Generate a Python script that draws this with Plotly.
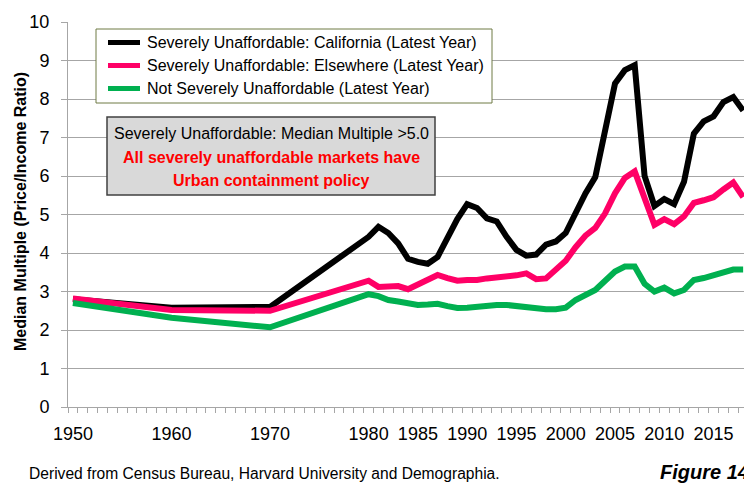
import plotly.graph_objects as go

years = [1950, 1960, 1970] + list(range(1980, 2019))

california = [2.80, 2.58, 2.60,
              4.42, 4.68, 4.52, 4.25, 3.85, 3.77, 3.72, 3.90, 4.40, 4.88,
              5.27, 5.17, 4.90, 4.82, 4.42, 4.08, 3.93, 3.96, 4.22, 4.30,
              4.52, 5.05, 5.55, 5.97, 7.10, 8.40, 8.75, 8.88, 6.00, 5.22,
              5.40, 5.27, 5.85, 7.10, 7.42, 7.55, 7.92, 8.05, 7.70]

elsewhere = [2.82, 2.52, 2.50,
             3.28, 3.12, 3.12, 3.14, 3.06, 3.17, 3.30, 3.43, 3.35, 3.28,
             3.30, 3.30, 3.34, 3.36, 3.38, 3.42, 3.47, 3.32, 3.34, 3.56,
             3.80, 4.15, 4.45, 4.65, 5.03, 5.55, 5.95, 6.12, 5.45, 4.73,
             4.88, 4.75, 4.95, 5.30, 5.37, 5.45, 5.65, 5.83, 5.45]

not_severe = [2.70, 2.32, 2.07,
              2.93, 2.88, 2.78, 2.74, 2.68, 2.65, 2.66, 2.68, 2.62, 2.57,
              2.58, 2.60, 2.65, 2.65, 2.65, 2.62, 2.60, 2.56, 2.54, 2.54,
              2.58, 2.78, 2.92, 3.04, 3.28, 3.52, 3.65, 3.65, 3.20, 3.00,
              3.10, 2.95, 3.04, 3.30, 3.35, 3.42, 3.52, 3.57, 3.57]

series_names = ["Severely Unaffordable: California (Latest Year)",
                "Severely Unaffordable: Elsewhere (Latest Year)",
                "Not Severely Unaffordable (Latest Year)"]
series_colors = ["#000000", "#FF0066", "#00B050"]

x_tick_vals = [1950, 1960, 1970, 1980, 1985, 1990, 1995, 2000, 2005, 2010, 2015]
y_tick_vals = list(range(0, 11))

# page body has an 8px margin; figure sized to fill the rest of the window
OFF = 8
W, H = 752 - OFF, 485 - OFF
L, R, T = 68 - OFF, 0, 22 - OFF
B = H - (407 - OFF)
PW, PH = W - L - R, H - T - B

def xp(px):
    return (px - OFF - L) / PW

def yp(py):
    return (H - B - (py - OFF)) / PH

FONT = "Liberation Sans, Arial, sans-serif"

fig = go.Figure()
for name, vals, col in zip(series_names, [california, elsewhere, not_severe], series_colors):
    fig.add_trace(go.Scatter(x=years, y=vals, mode="lines", name=name,
                             line=dict(color=col, width=6), showlegend=False))

grid = "#A6A6A6"
fig.update_layout(
    width=W, height=H,
    margin=dict(l=L, r=R, t=T, b=B),
    plot_bgcolor="white", paper_bgcolor="white",
    font=dict(family=FONT, color="#000000"),
    showlegend=False,
    xaxis=dict(range=[1949.5, 2018.9], tickmode="array", tickvals=x_tick_vals,
               ticktext=[str(v) for v in x_tick_vals], ticks="",
               tickfont=dict(size=18, family=FONT), showgrid=False,
               showline=True, linecolor=grid, linewidth=1, zeroline=False,
               ticklabelstandoff=10,
               minor=dict(tick0=1949.5, dtick=1, ticks="outside", ticklen=5,
                          tickcolor=grid, showgrid=False)),
    yaxis=dict(range=[0, 10], tickmode="array", tickvals=y_tick_vals,
               ticks="outside", ticklen=6, tickcolor=grid,
               tickfont=dict(size=18, family=FONT), showgrid=True,
               gridcolor=grid, gridwidth=1, showline=True, linecolor=grid,
               linewidth=1, zeroline=False, ticklabelstandoff=8),
)

# Y axis title
fig.add_annotation(text="<b>Median Multiple (Price/Income Ratio)</b>",
                   xref="paper", yref="paper", x=xp(20), y=yp(212),
                   xanchor="center", yanchor="middle", textangle=-90,
                   showarrow=False, font=dict(size=16, family=FONT))

# Legend box (drawn manually)
fig.add_shape(type="rect", xref="paper", yref="paper",
              x0=xp(96), x1=xp(492), y0=yp(29), y1=yp(103),
              fillcolor="white", line=dict(color="#6E7B45", width=1))
legend_y = [42.5, 65.5, 88.5]
for name, col, ly in zip(series_names, series_colors, legend_y):
    fig.add_shape(type="line", xref="paper", yref="paper",
                  x0=xp(108), x1=xp(140), y0=yp(ly), y1=yp(ly),
                  line=dict(color=col, width=5))
    fig.add_annotation(text=name, xref="paper", yref="paper",
                       x=xp(145), y=yp(ly), xanchor="left", yanchor="middle",
                       showarrow=False, font=dict(size=16, family=FONT))

# Info box
fig.add_shape(type="rect", xref="paper", yref="paper",
              x0=xp(107), x1=xp(435), y0=yp(117), y1=yp(195),
              fillcolor="#D9D9D9", line=dict(color="#404040", width=1.5))
fig.add_annotation(text="Severely Unaffordable: Median Multiple >5.0",
                   xref="paper", yref="paper", x=xp(271), y=yp(133),
                   xanchor="center", yanchor="middle", showarrow=False,
                   font=dict(size=16, family=FONT, color="#000000"))
fig.add_annotation(text="<b>All severely unaffordable markets have</b>",
                   xref="paper", yref="paper", x=xp(271), y=yp(157),
                   xanchor="center", yanchor="middle", showarrow=False,
                   font=dict(size=16, family=FONT, color="#FF0000"))
fig.add_annotation(text="<b>Urban containment policy</b>",
                   xref="paper", yref="paper", x=xp(271), y=yp(180),
                   xanchor="center", yanchor="middle", showarrow=False,
                   font=dict(size=16, family=FONT, color="#FF0000"))

# Footer texts
fig.add_annotation(text="Derived from Census Bureau, Harvard University and Demographia.",
                   xref="paper", yref="paper", x=xp(27), y=yp(473),
                   xanchor="left", yanchor="middle", showarrow=False,
                   font=dict(size=15.6, family=FONT, color="#000000"))
fig.add_annotation(text="<b><i>Figure 14</i></b>",
                   xref="paper", yref="paper", x=xp(658), y=yp(472),
                   xanchor="left", yanchor="middle", showarrow=False,
                   font=dict(size=20, family=FONT, color="#000000"))

fig.write_html("out.html")
